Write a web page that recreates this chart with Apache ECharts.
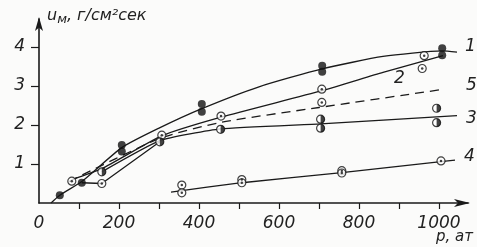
<!DOCTYPE html>
<html>
<head>
<meta charset="utf-8">
<script src="https://cdn.jsdelivr.net/npm/echarts@6/dist/echarts.min.js"></script>
<style>
  html, body { margin: 0; padding: 0; background: #fbfbfa; }
  #chart-container { width: 477px; height: 247px; }
</style>
</head>
<body>
<div id="chart-container"></div>
<script>
// pressure p (ат) vs mass burning rate u_м (г/см²сек)
const curve1 = [[30, 0], [52, 0.2], [107, 0.55], [207, 1.42], [300, 1.92], [407, 2.42], [550, 2.98], [708, 3.44], [860, 3.76], [1008, 3.9], [1045, 3.87]];
const curve2 = [[82, 0.6], [157, 0.88], [307, 1.72], [455, 2.2], [707, 2.88], [860, 3.35], [1010, 3.78]];
const curve3a = [[107, 0.52], [157, 0.5], [302, 1.57]];
const curve3 = [[157, 0.8], [302, 1.6], [454, 1.9], [704, 2.03], [1045, 2.24]];
const curve4 = [[330, 0.28], [507, 0.52], [757, 0.78], [1005, 1.06], [1040, 1.1]];
const curve5 = [[75, 0.55], [300, 1.65], [455, 2.07], [700, 2.45], [1000, 2.9]];

const solidPts = [[52, 0.2], [107, 0.52], [207, 1.49], [207, 1.32], [407, 2.54], [407, 2.34], [708, 3.52], [708, 3.37], [1008, 3.97], [1008, 3.79]];
const dotPts = [[82, 0.56], [157, 0.5], [307, 1.74], [455, 2.23], [707, 2.92], [707, 2.58], [963, 3.78], [958, 3.45],
                [357, 0.46], [357, 0.26], [507, 0.6], [507, 0.52], [757, 0.83], [757, 0.77], [1005, 1.08]];
const halfPts = [[157, 0.8], [302, 1.57], [454, 1.89], [704, 2.15], [704, 1.92], [994, 2.43], [994, 2.06]];

const xTicks = [100, 200, 300, 400, 500, 600, 700, 800, 900, 1000];
const xLabels = [0, 200, 400, 600, 800, 1000];
const yTicks = [1, 2, 3, 4];

const ink = '#1a1a1a';
const font = 'DejaVu Sans';

const lineSeries = (data, smooth, dashed) => ({
    type: 'line',
    data: data,
    smooth: smooth,
    showSymbol: false,
    symbol: 'none',
    silent: true,
    lineStyle: { color: ink, width: 1.3, type: dashed ? [9, 6] : 'solid' },
    z: 2
});

const chart = echarts.init(document.getElementById('chart-container'));

chart.setOption({
    backgroundColor: '#fbfbfa',
    animation: false,
    grid: { left: 39, right: 9, top: 19, bottom: 44 },
    xAxis: {
        type: 'value',
        min: 0,
        max: 1072.5,
        splitLine: { show: false },
        axisLine: { lineStyle: { color: ink, width: 1.6 }, symbol: ['none', 'arrow'], symbolSize: [6, 16], symbolOffset: [0, 2] },
        axisTick: { customValues: xTicks, length: 6, inside: false, lineStyle: { color: ink, width: 1.2 } },
        axisLabel: { customValues: xLabels, formatter: v => String(v), margin: 12, color: '#222', fontFamily: font, fontStyle: 'italic', fontSize: 17 }
    },
    yAxis: {
        type: 'value',
        min: 0,
        max: 4.72,
        splitLine: { show: false },
        axisLine: { lineStyle: { color: ink, width: 1.6 }, symbol: ['none', 'arrow'], symbolSize: [6, 14], symbolOffset: [0, 2] },
        axisTick: { customValues: yTicks, length: 8, lineStyle: { color: ink, width: 1.2 } },
        axisLabel: { customValues: yTicks, margin: 14, color: '#222', fontFamily: font, fontStyle: 'italic', fontSize: 17 }
    },
    graphic: [
        { type: 'text', left: 47, top: 8, style: {
            text: '{a|u}{s|м}{a|, г/см²сек}',
            rich: {
                a: { fontFamily: font, fontStyle: 'italic', fontSize: 16, fill: '#222' },
                s: { fontFamily: font, fontStyle: 'italic', fontSize: 13, fill: '#222', padding: [8, 0, 0, 0] }
            }
        } },
        { type: 'text', left: 436, top: 230, style: { text: 'p, ат', fontFamily: font, fontStyle: 'italic', fontSize: 15, fill: '#222' } },
        { type: 'text', left: 465, top: 38, style: { text: '1', fontFamily: font, fontStyle: 'italic', fontSize: 17, fill: '#222' } },
        { type: 'text', left: 394, top: 70, style: { text: '2', fontFamily: font, fontStyle: 'italic', fontSize: 17, fill: '#222' } },
        { type: 'text', left: 466, top: 77, style: { text: '5', fontFamily: font, fontStyle: 'italic', fontSize: 17, fill: '#222' } },
        { type: 'text', left: 466, top: 110, style: { text: '3', fontFamily: font, fontStyle: 'italic', fontSize: 17, fill: '#222' } },
        { type: 'text', left: 464, top: 148, style: { text: '4', fontFamily: font, fontStyle: 'italic', fontSize: 17, fill: '#222' } }
    ],
    series: [
        lineSeries(curve1, 0.2, false),
        lineSeries(curve2, 0.2, false),
        lineSeries(curve3a, false, false),
        lineSeries(curve3, 0.15, false),
        lineSeries(curve4, 0.15, false),
        lineSeries(curve5, 0.2, true),
        // solid dots
        { type: 'scatter', data: solidPts, symbol: 'circle', symbolSize: 8, itemStyle: { color: '#111' }, z: 5 },
        // open circles with a centre dot
        { type: 'scatter', data: dotPts, symbol: 'circle', symbolSize: 8, itemStyle: { color: '#fff', borderColor: '#111', borderWidth: 1.2 }, z: 5 },
        { type: 'scatter', data: dotPts, symbol: 'circle', symbolSize: 2.5, itemStyle: { color: '#111' }, z: 6 },
        // half filled circles
        { type: 'scatter', data: halfPts, symbol: 'circle', symbolSize: 8, itemStyle: { color: '#fff', borderColor: '#111', borderWidth: 1.2 }, z: 5 },
        { type: 'scatter', data: halfPts, symbol: 'path://M5,0 A5,5 0 0 1 5,10 Z', symbolSize: [4, 8], symbolOffset: [2, 0], itemStyle: { color: '#111' }, z: 6 }
    ]
});
</script>
</body>
</html>
